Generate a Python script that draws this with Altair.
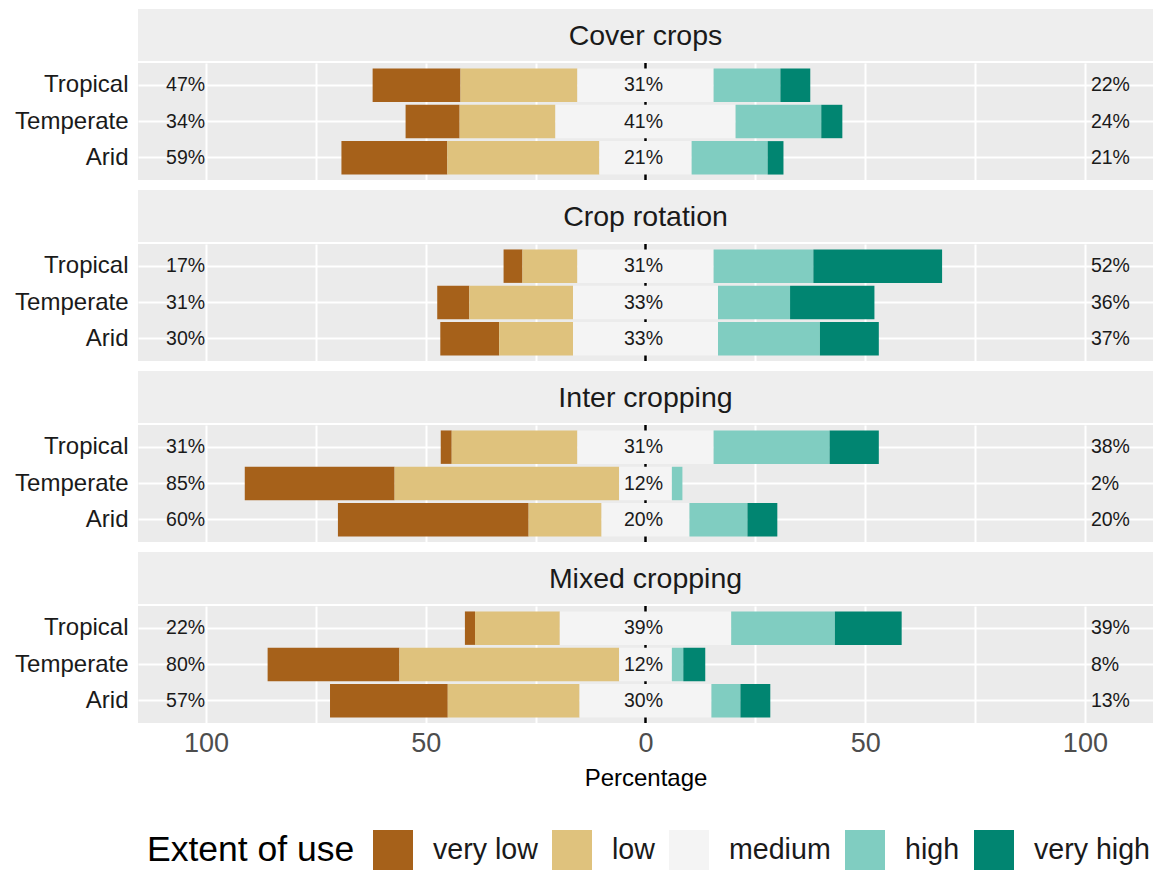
import altair as alt
import pandas as pd

FONT = "Liberation Sans"

practices = ["Cover crops", "Crop rotation", "Inter cropping", "Mixed cropping"]
regions = ["Tropical", "Temperate", "Arid"]
levels = ["very low", "low", "medium", "high", "very high"]
level_colors = ["#A6611A", "#DFC27D", "#F4F4F4", "#80CDC1", "#018571"]

# Share of responses (%) per practice x climate, listed practice by practice,
# rows in the order Tropical, Temperate, Arid.
very_low = [20.0, 12.3, 24.1, 4.3, 7.3, 13.4, 2.5, 34.1, 43.4, 2.3, 30.0, 26.8]
low = [26.6, 21.8, 34.6, 12.5, 23.6, 16.8, 28.6, 51.1, 16.6, 19.3, 50.0, 30.0]
medium = [31, 41, 21, 31, 33, 33, 31, 12, 20, 39, 12, 30]
high = [15.2, 19.5, 17.3, 22.7, 16.4, 23.2, 26.4, 2.4, 13.2, 23.6, 2.6, 6.6]
very_high = [6.8, 4.8, 3.6, 29.3, 19.2, 13.4, 11.2, 0.0, 6.8, 15.2, 5.0, 6.8]

# Build diverging segments: the medium block is centred on zero.
seg_rows, lab_rows = [], []
i = 0
for p in practices:
    for r in regions:
        vals = [very_low[i], low[i], medium[i], high[i], very_high[i]]
        start = -vals[2] / 2 - vals[1] - vals[0]
        for k, (lev, v) in enumerate(zip(levels, vals)):
            if v > 0:
                seg_rows.append(dict(practice=p, region=r, level=lev, order=k,
                                     start=start, end=start + v))
            start += v
        lab_rows.append(dict(practice=p, region=r,
                             low_lab=f"{round(vals[0] + vals[1])}%",
                             mid_lab=f"{round(vals[2])}%",
                             high_lab=f"{round(vals[3] + vals[4])}%"))
        i += 1

segs = pd.DataFrame(seg_rows)
labs = pd.DataFrame(lab_rows)

W = 1015
PANEL_H = 117
STRIP_H = 52
grid_vals = [-100, -75, -50, -25, 0, 25, 50, 75, 100]

xscale = alt.Scale(domain=[-115.5, 115.5], nice=False, zero=False)
yscale = alt.Scale(domain=regions, paddingInner=0.08, paddingOuter=0.15)

yaxis = alt.Axis(title=None, labelFontSize=24, labelColor="#1A1A1A", labelFont=FONT,
                 ticks=False, tickSize=0, domain=False, labelPadding=10,
                 minExtent=133, maxExtent=133, grid=True, gridColor="white",
                 gridWidth=2, bandPosition=0.5)

legend = alt.Legend(title="Extent of use", orient="none", legendX=9, legendY=821,
                    direction="horizontal", titleOrient="left", symbolType="square",
                    symbolSize=1600, symbolStrokeWidth=0, labelFontSize=28.6,
                    titleFontSize=35.5, titleLimit=400, labelLimit=300,
                    labelOffset=20, columnPadding=14,
                    titlePadding=18, labelFont=FONT, titleFont=FONT,
                    labelColor="#1A1A1A", titleColor="#000000",
                    titleFontWeight="normal", titleAnchor="middle",
                    titleBaseline="middle", labelBaseline="middle")


def x_axis(bottom):
    if bottom:
        return alt.Axis(values=grid_vals, grid=True, gridColor="white", gridWidth=2,
                        ticks=False, domain=False, labelFontSize=27,
                        labelColor="#4D4D4D", labelFont=FONT, labelPadding=7,
                        labelExpr="abs(datum.value) % 50 == 0 ? format(abs(datum.value), 'd') : ''",
                        title="Percentage", titleFontSize=24, titleFont=FONT,
                        titleFontWeight="normal", titleColor="#000000", titlePadding=10)
    # grid only: no labels, no space reserved below the panel
    return alt.Axis(values=grid_vals, grid=True, gridColor="white", gridWidth=2,
                    ticks=False, tickSize=0, domain=False, labels=False,
                    labelPadding=0, title=None, minExtent=0, maxExtent=0)


def strip(p):
    return alt.Chart(pd.DataFrame({"practice": [p]})).mark_text(
        font=FONT, fontSize=28.5, color="#1A1A1A", baseline="middle"
    ).encode(
        text="practice:N", x=alt.value(W / 2), y=alt.value(STRIP_H / 2 + 1)
    ).properties(width=W, height=STRIP_H,
                 view=alt.ViewBackground(fill="#EEEEEE", strokeWidth=0))


def panel(p, bottom):
    seg = segs[segs.practice == p]
    lab = labs[labs.practice == p]
    xa = x_axis(bottom)
    y = alt.Y("region:N", scale=yscale, axis=yaxis, sort=regions)

    zero = alt.Chart(pd.DataFrame({"x": [0]})).mark_rule(
        color="black", strokeWidth=2.5
    ).encode(x=alt.X("x:Q", scale=xscale, axis=xa))

    bars = alt.Chart(seg).mark_bar().encode(
        x=alt.X("start:Q", scale=xscale, axis=xa),
        x2="end:Q",
        y=y,
        color=alt.Color("level:N", scale=alt.Scale(domain=levels, range=level_colors),
                        legend=legend),
        order="order:Q",
    )

    txt = dict(font=FONT, fontSize=19.5, color="#1A1A1A", baseline="middle")
    left = alt.Chart(lab).mark_text(align="right", dx=-1, **txt).encode(
        x=alt.datum(-100), y=y, text="low_lab:N")
    mid = alt.Chart(lab).mark_text(align="center", dx=-2, **txt).encode(
        x=alt.datum(0), y=y, text="mid_lab:N")
    right = alt.Chart(lab).mark_text(align="left", dx=6, **txt).encode(
        x=alt.datum(100), y=y, text="high_lab:N")

    return alt.layer(zero, bars, left, mid, right).properties(
        width=W, height=PANEL_H,
        view=alt.ViewBackground(fill="#EBEBEB", strokeWidth=0))


groups = [
    alt.vconcat(strip(p), panel(p, k == len(practices) - 1), spacing=0)
    for k, p in enumerate(practices)
]

# rule and grid strokes widen each group's bounds by a few pixels, so the
# gap between groups is set a little below the visible white band
chart = alt.vconcat(*groups, spacing=8).properties(
    padding={"left": 5, "top": 9, "right": 8, "bottom": 2},
    background="white",
).configure_view(strokeWidth=0)

chart.save("out.html", embed_options={"renderer": "svg", "actions": False})
